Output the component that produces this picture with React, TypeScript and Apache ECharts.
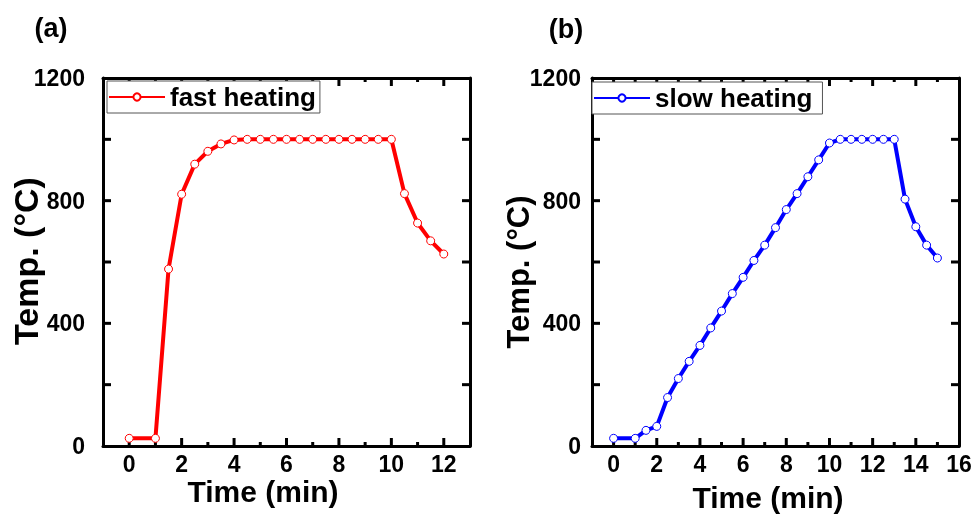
import React, { useEffect, useRef } from "react";
import * as echarts from "echarts";

const fastTime = [0, 1, 1.5, 2, 2.5, 3, 3.5, 4, 4.5, 5, 5.5, 6, 6.5, 7, 7.5, 8, 8.5, 9, 9.5, 10, 10.5, 11, 11.5, 12];
const fastTemp = [25, 25, 577, 821, 919, 961, 985, 998, 1000, 1000, 1000, 1000, 1000, 1000, 1000, 1000, 1000, 1000, 1000, 1000, 823, 727, 669, 626];

const slowTime = [0, 1, 1.5, 2, 2.5, 3, 3.5, 4, 4.5, 5, 5.5, 6, 6.5, 7, 7.5, 8, 8.5, 9, 9.5, 10, 10.5, 11, 11.5, 12, 12.5, 13, 13.5, 14, 14.5, 15];
const slowTemp = [25, 25, 51, 64, 158, 220, 276, 328, 385, 440, 497, 550, 605, 655, 712, 771, 823, 878, 933, 988, 1000, 1000, 1000, 1000, 1000, 1000, 805, 715, 655, 613];

// axis ranges and tick values
const fastXRange = [-1, 13];
const slowXRange = [-1, 16];
const yRange = [0, 1200];
const fastMajorTicks = [0, 2, 4, 6, 8, 10, 12];
const fastMinorTicks = [1, 3, 5, 7, 9, 11];
const slowMajorTicks = [0, 2, 4, 6, 8, 10, 12, 14];
const slowMinorTicks = [1, 3, 5, 7, 9, 11, 13, 15];
const slowLabels = [0, 2, 4, 6, 8, 10, 12, 14, 16];
const yTicks = [200, 400, 600, 800, 1000];
const yLabels = [0, 400, 800, 1200];

const FONT = "Liberation Sans, Arial, Helvetica, sans-serif";
const BLACK = "#000";

const PLOT_TOP = 78;
const PLOT_H = 368;
const PLOT_W = 367;
const LEFT_A = 103;
const LEFT_B = 592;

const MAJOR_LEN = 8;
const MINOR_LEN = 4;
const Y_LEN = 8;

const labelStyle = {
  color: BLACK,
  fontSize: 23,
  fontWeight: "bold",
  fontFamily: FONT,
  formatter: (v: number) => String(v),
};

function frameX(gridIndex: number, range: number[], labels: number[]) {
  const mk = (position: string, showLabel: boolean) => ({
    type: "value",
    gridIndex,
    position,
    min: range[0],
    max: range[1],
    interval: 1,
    axisLine: { show: true, onZero: false, lineStyle: { color: BLACK, width: 3 } },
    axisTick: { show: false },
    axisLabel: { show: showLabel, customValues: labels, margin: 6, ...labelStyle },
    splitLine: { show: false },
  });
  return [mk("bottom", true), mk("top", false)];
}

function frameY(gridIndex: number, labelMargin: number) {
  const mk = (position: string, showLabel: boolean) => ({
    type: "value",
    gridIndex,
    position,
    min: yRange[0],
    max: yRange[1],
    interval: 200,
    axisLine: { show: true, onZero: false, lineStyle: { color: BLACK, width: 3 } },
    axisTick: { show: false },
    axisLabel: { show: showLabel, customValues: yLabels, margin: labelMargin, ...labelStyle },
    splitLine: { show: false },
  });
  return [mk("left", true), mk("right", false)];
}

// inward ticks on all four sides, drawn through the axes' own scales
function tickSeries(xi: number, yi: number, xr: number[], majors: number[], minors: number[]) {
  const data = [
    ...majors.map((v) => [v, yRange[0], 0]),
    ...minors.map((v) => [v, yRange[0], 1]),
    ...yTicks.map((v) => [xr[0], v, 2]),
  ];
  return {
    type: "custom",
    xAxisIndex: xi,
    yAxisIndex: yi,
    silent: true,
    z: 3,
    data,
    renderItem: (_params: any, api: any) => {
      const x = api.value(0);
      const y = api.value(1);
      const k = api.value(2);
      const style = { stroke: BLACK, lineWidth: 3 };
      if (k === 2) {
        const a = api.coord([xr[0], y]);
        const b = api.coord([xr[1], y]);
        return {
          type: "group",
          children: [
            { type: "line", shape: { x1: a[0], y1: a[1], x2: a[0] + Y_LEN, y2: a[1] }, style },
            { type: "line", shape: { x1: b[0], y1: b[1], x2: b[0] - Y_LEN, y2: b[1] }, style },
          ],
        };
      }
      const len = k === 0 ? MAJOR_LEN : MINOR_LEN;
      const a = api.coord([x, yRange[0]]);
      const b = api.coord([x, yRange[1]]);
      return {
        type: "group",
        children: [
          { type: "line", shape: { x1: a[0], y1: a[1], x2: a[0], y2: a[1] - len }, style },
          { type: "line", shape: { x1: b[0], y1: b[1], x2: b[0], y2: b[1] + len }, style },
        ],
      };
    },
  };
}

function legendOpt(name: string, left: number, top: number, padRight: number) {
  return {
    data: [name],
    left,
    top,
    orient: "horizontal",
    backgroundColor: "#fff",
    borderColor: "#555",
    borderWidth: 1,
    borderRadius: 0,
    padding: [2, padRight, 2, 1],
    itemWidth: 56,
    itemHeight: 9,
    itemGap: 0,
    textStyle: { color: BLACK, fontSize: 26, fontWeight: "bold", fontFamily: FONT, lineHeight: 28 },
  };
}

function textEl(text: string, x: number, y: number, size: number, rotation = 0) {
  return {
    type: "text",
    x,
    y,
    rotation,
    style: {
      text,
      fill: BLACK,
      font: `bold ${size}px ${FONT}`,
      align: "center",
      verticalAlign: "middle",
    },
  };
}

function seriesOpt(name: string, times: number[], temps: number[], color: string, xi: number, yi: number) {
  return {
    name,
    type: "line",
    xAxisIndex: xi,
    yAxisIndex: yi,
    data: times.map((t, i) => [t, temps[i]]),
    symbol: "circle",
    symbolSize: 8,
    showAllSymbol: true,
    itemStyle: { color: "#fff", borderColor: color, borderWidth: 1 },
    lineStyle: { color, width: 4 },
    z: 5,
  };
}

export default function App() {
  const ref = useRef<HTMLDivElement>(null);
  useEffect(() => {
    if (!ref.current) return;
    const chart = echarts.init(ref.current, undefined, { renderer: "svg" });
    const option = {
      animation: false,
      grid: [
        { left: LEFT_A, top: PLOT_TOP, width: PLOT_W, height: PLOT_H },
        { left: LEFT_B, top: PLOT_TOP, width: PLOT_W, height: PLOT_H },
      ],
      xAxis: [...frameX(0, fastXRange, fastMajorTicks), ...frameX(1, slowXRange, slowLabels)],
      yAxis: [...frameY(0, 18), ...frameY(1, 11)],
      legend: [legendOpt("fast heating", 107, 81, 4), legendOpt("slow heating", 592, 82, 10)],
      graphic: [
        textEl("(a)", 51, 28, 27),
        textEl("(b)", 566, 29, 27),
        textEl("Time (min)", 263, 491, 30),
        textEl("Time (min)", 768, 497, 30),
        textEl("Temp. (°C)", 26, 261, 34, Math.PI / 2),
        textEl("Temp. (°C)", 518, 272, 31, Math.PI / 2),
      ],
      series: [
        tickSeries(0, 0, fastXRange, fastMajorTicks, fastMinorTicks),
        tickSeries(2, 2, slowXRange, slowMajorTicks, slowMinorTicks),
        seriesOpt("fast heating", fastTime, fastTemp, "#ff0000", 0, 0),
        seriesOpt("slow heating", slowTime, slowTemp, "#0000ff", 2, 2),
      ],
    };
    chart.setOption(option as any);
    return () => chart.dispose();
  }, []);
  return <div ref={ref} style={{ position: "fixed", left: 0, top: 0, width: 976, height: 514 }} />;
}
